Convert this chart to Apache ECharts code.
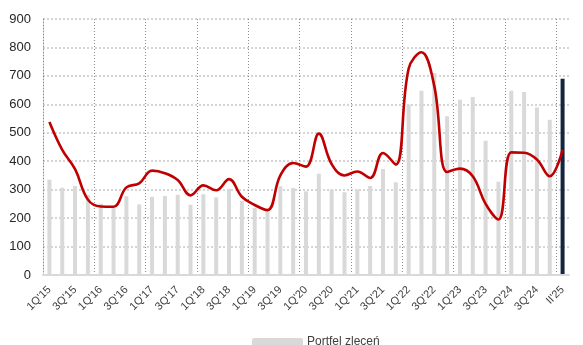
<!DOCTYPE html>
<html>
<head>
<meta charset="utf-8">
<script src="https://cdn.jsdelivr.net/npm/echarts@6/dist/echarts.min.js"></script>
<style>
  html, body { margin: 0; padding: 0; background: #fff; }
  #chart { width: 583px; height: 345px; }
</style>
</head>
<body>
<div id="chart"></div>
<script>
// Quarterly categories, 1Q'15 .. 4Q'24, then II'25
const quarters = [];
for (let y = 15; y <= 24; y++) {
  for (let q = 1; q <= 4; q++) quarters.push(q + "Q'" + y);
}
quarters.push("II'25");

// Order backlog (bars)
const backlog = [
  335, 307, 313, 281, 251, 236, 277, 248, 275, 278, 282, 247,
  284, 273, 303, 260, 236, 224, 312, 306, 294, 356, 300, 291,
  301, 313, 373, 326, 599, 648, 710, 558, 616, 626, 472, 328,
  648, 643, 589, 546, 690
];

// Smoothed line series
const lineValues = [
  538, 440, 372, 265, 241, 240, 308, 322, 367, 358, 334, 280,
  315, 298, 337, 275, 246, 228, 350, 394, 381, 497, 390, 350,
  364, 341, 429, 388, 725, 783, 664, 362, 374, 347, 250, 195,
  431, 430, 406, 347, 440
];

const yTicks = { min: 0, max: 900, interval: 100 };
const quartersPerYear = 4;

const barData = backlog.map((v, i) =>
  i === backlog.length - 1
    ? { value: v, itemStyle: { color: '#14253f' } }
    : v
);

const fontFamily = 'Liberation Sans, Arial, sans-serif';
const separatorStyle = { color: '#8c8c8c', type: [1, 2], width: 1 };

const chart = echarts.init(document.getElementById('chart'), null, { renderer: 'canvas' });
chart.setOption({
  animation: false,
  backgroundColor: '#ffffff',
  grid: { left: 43, right: 14, top: 19, bottom: 70, containLabel: false },
  legend: {
    data: ['Portfel zleceń'],
    left: 247,
    top: 331,
    itemWidth: 51,
    itemHeight: 8,
    itemGap: 4,
    textStyle: { fontFamily: fontFamily, fontSize: 12, color: '#404040', padding: [0, 0, 0, -1] }
  },
  xAxis: [
    {
      // category axis carrying bars, line and labels
      type: 'category',
      data: quarters,
      boundaryGap: true,
      axisLine: { show: true, lineStyle: { color: '#d9d9d9', width: 2 } },
      axisTick: { show: false },
      axisLabel: {
        interval: 1,
        rotate: 45,
        margin: 13,
        fontFamily: fontFamily,
        fontSize: 11,
        color: '#404040'
      },
      splitLine: { show: false },
      z: 3
    },
    {
      // helper axis spanning the same slots: year separators every four quarters
      type: 'value',
      min: 0,
      max: quarters.length,
      interval: quartersPerYear,
      position: 'bottom',
      axisLine: { show: false },
      axisTick: { show: false },
      axisLabel: { show: false },
      splitLine: {
        show: true,
        showMaxLine: false,
        lineStyle: separatorStyle
      }
    }
  ],
  yAxis: {
    type: 'value',
    min: yTicks.min,
    max: yTicks.max,
    interval: yTicks.interval,
    axisLine: { show: true, lineStyle: separatorStyle },
    axisTick: { show: false },
    axisLabel: {
      margin: 12,
      fontFamily: fontFamily,
      fontSize: 13,
      color: '#262626'
    },
    splitLine: { show: true, lineStyle: { color: '#c8c8c8', type: [2, 2], width: 1.5 } }
  },
  series: [
    {
      name: 'Portfel zleceń',
      type: 'bar',
      data: barData,
      barWidth: 4,
      itemStyle: { color: '#d9d9d9' },
      z: 2
    },
    {
      name: 'linia',
      type: 'line',
      data: lineValues,
      smooth: 0.4,
      showSymbol: false,
      lineStyle: { color: '#c00000', width: 2.6 },
      itemStyle: { color: '#c00000' },
      z: 3
    }
  ]
});
</script>
</body>
</html>
